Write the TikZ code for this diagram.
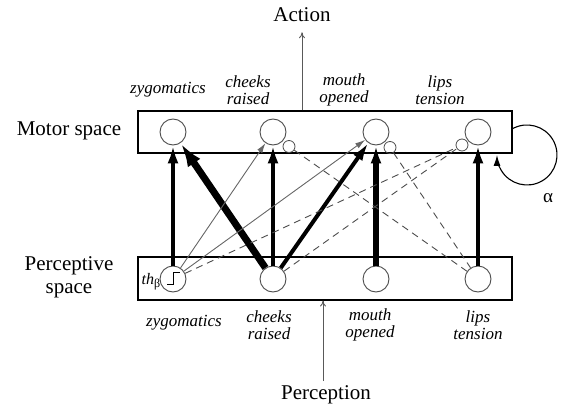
\documentclass[tikz,border=0pt]{standalone}
\usepackage{fontspec}
\setmainfont{Liberation Serif}
\usetikzlibrary{arrows.meta}

\begin{document}
\begin{tikzpicture}[x=1pt,y=-1pt,
  unit/.style={circle,draw=black!70,line width=0.9pt,minimum size=26pt,inner sep=0pt},
  gate/.style={circle,draw=black!70,line width=0.8pt,minimum size=12pt,inner sep=0pt},
  layer/.style={draw,line width=1.1pt,minimum width=374pt,minimum height=42pt,inner sep=0pt},
  excite/.style={draw=black,-{Latex[length=18pt,width=11pt]}},
  weak/.style={draw=black!60,line width=0.9pt,-{Latex[length=10pt,width=6pt]}},
  inhib/.style={draw=black!70,line width=0.9pt,dash pattern=on 7pt off 5pt},
  lab/.style={font=\fontsize{17}{17}\selectfont\itshape,align=center,inner sep=0pt},
  big/.style={font=\fontsize{21}{23}\selectfont,align=center,inner sep=0pt},
  flow/.style={draw=black!65,line width=0.9pt,-{To[length=6pt,width=6pt]}}]

\useasboundingbox (0,0) rectangle (562,409);

% the two layers
\node[layer] (motor) at (325,132) {};
\node[layer,minimum height=43pt] (percept) at (325,278.5) {};

% motor units
\node[unit] (m1) at (173,132) {};
\node[unit] (m2) at (273,132) {};
\node[unit] (m3) at (376,132) {};
\node[unit] (m4) at (478,132) {};
% inhibitory gates
\node[gate] (s2) at (289,146.5) {};
\node[gate] (s3) at (390,147.5) {};
\node[gate] (s4) at (462,145) {};

% perceptive units
\node[unit] (p1) at (173,279) {};
\node[unit] (p2) at (273,279) {};
\node[unit] (p3) at (376,279) {};
\node[unit] (p4) at (478,279) {};

% threshold step inside the first perceptive unit
\draw[line width=1pt] (167,284) -- (173,284) -- (173,272) -- (180,272);
\node[inner sep=0pt] (th) at (151,282) {\fontsize{16}{16}\selectfont\itshape th\raisebox{-3pt}{\fontsize{12}{12}\selectfont\upshape β}};

% side labels
\node[big] (mlab) at (69,131) {Motor space};
\node[big] (plab) at (69,277) {Perceptive\\space};

% unit labels, motor side
\node[lab] (tz) at (168,90) {zygomatics};
\node[lab] (tc) at (248,90) {cheeks\\raised};
\node[lab] (tm) at (344,90) {mouth\\opened};
\node[lab] (tl) at (440,90) {lips\\tension};

% unit labels, perceptive side
\node[lab] (bz) at (184,323) {zygomatics};
\node[lab] (bc) at (269,325) {cheeks\\raised};
\node[lab] (bm) at (370,325) {mouth\\opened};
\node[lab] (bl) at (478,325) {lips\\tension};

% action output
\node[big] (act) at (302,15) {Action};
\draw[flow,shorten >=10pt] (motor.north -| act) -- (act.south);

% perception input
\node[big] (perc) at (326,395) {Perception};
\coordinate (pin) at (323,381);
\draw[flow] (pin) -- (percept.south -| pin);

% excitatory connections
\draw[excite,line width=4.5pt] (p1) -- (m1);
\draw[excite,line width=4.5pt] (p2) -- (m2);
\draw[excite,line width=5.5pt] (p3) -- (m3);
\draw[excite,line width=4.5pt] (p4) -- (m4);
\draw[draw=black,line width=7pt,-{Latex[length=24pt,width=15pt]}] (p2) -- (m1);
\draw[excite,line width=4pt] (p2) -- (m3);
\draw[weak] (p1) -- (m2);
\draw[weak] (p1) -- (m3);

% inhibitory connections
\draw[inhib] (p1) -- (s4);
\draw[inhib] (p2) -- (s4);
\draw[inhib] (s2) -- (p4);
\draw[inhib] (s3) -- (p4);

% recurrent loop on the motor layer
\coordinate (loopstart) at (512,129);
\draw[line width=1.1pt,-{Latex[length=11pt,width=7pt]}] (loopstart) arc[start angle=120,end angle=-180,radius=30pt];
\node[font=\fontsize{19}{19}\selectfont,inner sep=0pt] (alpha) at (548,198) {α};
\end{tikzpicture}
\end{document}
